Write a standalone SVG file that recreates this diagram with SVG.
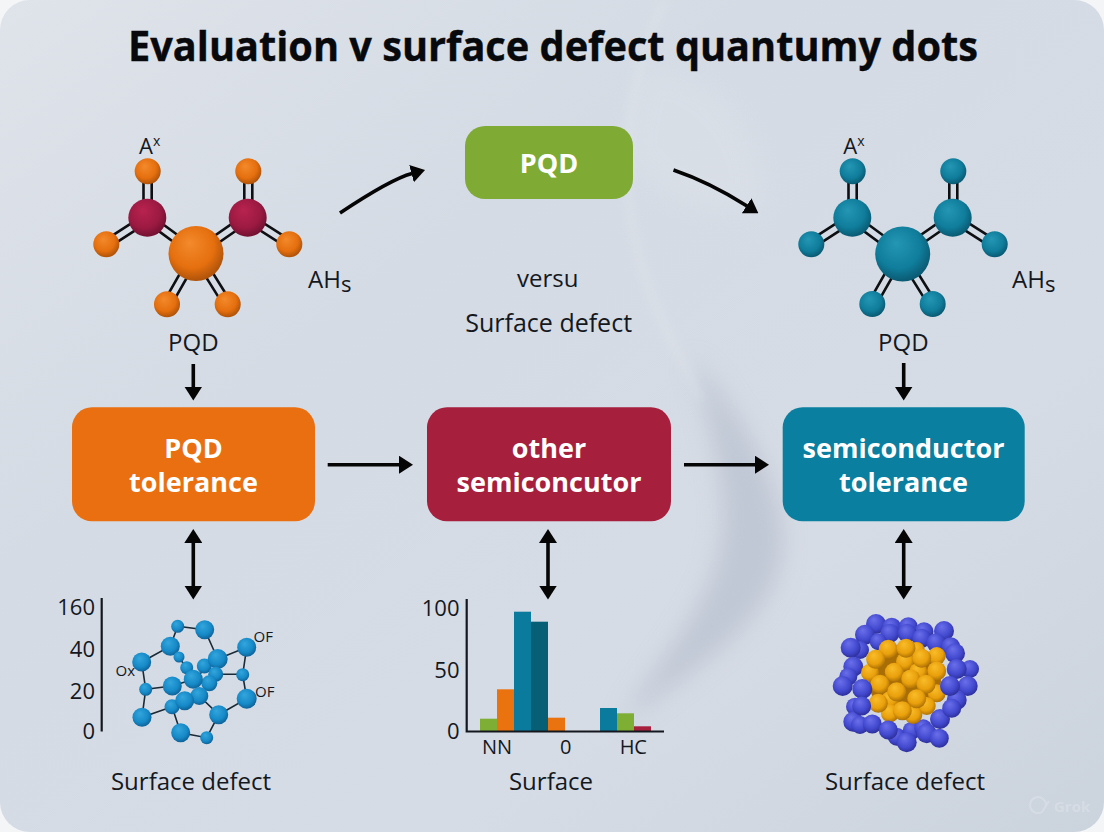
<svg xmlns="http://www.w3.org/2000/svg" xmlns:xlink="http://www.w3.org/1999/xlink" width="1104" height="832" viewBox="0 0 1104 832">
<style>
text{font-family:"Open Sans","Noto Sans","Liberation Sans",sans-serif;fill:#14181e}
.lbl{font-size:24px;text-anchor:middle}
.wide{font-size:25px;text-anchor:middle}
.axis{font-size:22px;text-anchor:end}
.tick{font-size:20px;text-anchor:middle}
.cap{font-size:24px;text-anchor:middle}
.small{font-size:15px}
.nt{font-size:27px;font-weight:700;text-anchor:middle;fill:#fff}
.bond{stroke:#0d0f12;stroke-width:2.6;fill:none}
.edge{stroke:#1a2a36;stroke-width:1.6;fill:none}
.conn{stroke:#050505;stroke-width:3.6;fill:none}
.o{fill:url(#gOrange)}.c{fill:url(#gCrimson)}.t{fill:url(#gTeal)}.b{fill:url(#gSky)}.v{fill:url(#gViolet)}.g{fill:url(#gGold)}
</style>
<defs>
<linearGradient id="bg" x1="0" y1="0" x2="1" y2="1">
<stop offset="0" stop-color="#dfe3ea"/><stop offset=".35" stop-color="#d4dbe4"/><stop offset=".7" stop-color="#d6dce5"/><stop offset="1" stop-color="#cbd3dd"/>
</linearGradient>
<radialGradient id="gOrange" cx=".45" cy=".4" r=".62" fx=".38" fy=".3"><stop offset="0" stop-color="#f38a2c"/><stop offset=".65" stop-color="#e56f0e"/><stop offset="1" stop-color="#a9500a"/></radialGradient>
<radialGradient id="gCrimson" cx=".45" cy=".4" r=".62" fx=".38" fy=".3"><stop offset="0" stop-color="#b8234f"/><stop offset=".65" stop-color="#9c1a42"/><stop offset="1" stop-color="#6e1030"/></radialGradient>
<radialGradient id="gTeal" cx=".45" cy=".4" r=".62" fx=".38" fy=".3"><stop offset="0" stop-color="#2497b5"/><stop offset=".65" stop-color="#0f7d9b"/><stop offset="1" stop-color="#0a566e"/></radialGradient>
<radialGradient id="gSky" cx=".45" cy=".4" r=".62" fx=".38" fy=".3"><stop offset="0" stop-color="#34a6dd"/><stop offset=".65" stop-color="#168ac8"/><stop offset="1" stop-color="#0e5f94"/></radialGradient>
<radialGradient id="gViolet" cx=".45" cy=".4" r=".62" fx=".38" fy=".28"><stop offset="0" stop-color="#6a70ea"/><stop offset=".65" stop-color="#4349cf"/><stop offset="1" stop-color="#2a2d96"/></radialGradient>
<radialGradient id="gGold" cx=".45" cy=".4" r=".62" fx=".38" fy=".28"><stop offset="0" stop-color="#f9bd2a"/><stop offset=".65" stop-color="#e9a00c"/><stop offset="1" stop-color="#a86d05"/></radialGradient>
<filter id="blur12" x="-30%" y="-30%" width="160%" height="160%"><feGaussianBlur stdDeviation="12"/></filter>
<filter id="blur5" x="-30%" y="-30%" width="160%" height="160%"><feGaussianBlur stdDeviation="5"/></filter>
<marker id="ah" markerUnits="userSpaceOnUse" markerWidth="14" markerHeight="18" viewBox="0 0 14 18" refX="0.5" refY="9" orient="auto-start-reverse"><path d="M0 0L14 9L0 18Z" fill="#050505"/></marker>
<g id="bonds" class="bond">
<path d="M143.5 171V218M151.7 171V218M244.3 171V218M252.3 171V218"/>
<path d="M149.5 221.1L108.5 247.7M145.1 214.3L104.1 240.9"/>
<path d="M198.4 250.3L149.7 214.5M193.6 256.7L144.9 220.9"/>
<path d="M198.3 256.8L250 221M193.7 250.2L245.4 214.4"/>
<path d="M245.5 221.1L287.1 247.7M249.9 214.3L291.5 240.9"/>
<path d="M199.5 255.5L170.5 306.3M192.5 251.5L163.5 302.3"/>
<path d="M199.4 251.4L231.1 302.2M192.6 255.6L224.3 306.4"/>
</g>
</defs>

<rect width="1104" height="832" fill="#f4f5f7"/>
<g id="background">
<rect width="1104" height="832" rx="30" fill="url(#bg)"/>
<path d="M640 70C700 60 770 120 760 210C700 220 640 190 625 150Z" fill="#e3e7ed" opacity=".3" filter="url(#blur12)"/>
<path d="M690 355C755 430 795 510 778 570C760 630 690 670 620 725C670 640 735 590 722 490C715 440 705 400 690 355Z" fill="#aab3c5" opacity=".5" filter="url(#blur12)"/>
<path d="M665 0C630 70 615 170 640 260C660 330 690 370 700 400" fill="none" stroke="#e8ebf0" stroke-width="6" opacity=".35" filter="url(#blur5)"/>
</g>

<text id="title" x="553" y="61" text-anchor="middle" font-size="42" font-weight="700" textLength="850" lengthAdjust="spacingAndGlyphs" stroke="#07090c" stroke-width=".4" style="fill:#07090c">Evaluation v surface defect quantumy dots</text>

<g id="connectors">
<path class="conn" d="M340 213C370 193 395 178 412 173.500" marker-end="url(#ah)"/>
<path class="conn" d="M673.500 170C700 179 725 192 747 206" marker-end="url(#ah)"/>
<path class="conn" d="M193.300 364V387" marker-end="url(#ah)"/>
<path class="conn" d="M903.700 363V387" marker-end="url(#ah)"/>
<path class="conn" d="M327.700 464.700H399.500" marker-end="url(#ah)"/>
<path class="conn" d="M684 464.700H755.500" marker-end="url(#ah)"/>
<path class="conn" d="M193.300 542.500V586" marker-start="url(#ah)" marker-end="url(#ah)"/>
<path class="conn" d="M548 542.500V586" marker-start="url(#ah)" marker-end="url(#ah)"/>
<path class="conn" d="M903.700 542.500V586" marker-start="url(#ah)" marker-end="url(#ah)"/>
</g>

<g id="node-pqd-top"><rect x="465" y="126" width="168" height="73" rx="20" fill="#7fab35"/><text class="nt" x="549" y="172.500">PQD</text></g>
<g id="node-pqd-tolerance"><rect x="72" y="407.300" width="243" height="114" rx="20" fill="#e96f10"/><text class="nt" x="193.500" y="457.500">PQD</text><text class="nt" x="193.500" y="492.300">tolerance</text></g>
<g id="node-other"><rect x="427" y="407.300" width="244" height="114" rx="20" fill="#a61f3d"/><text class="nt" x="549" y="457.500">other</text><text class="nt" x="549" y="492.300">semiconcutor</text></g>
<g id="node-semi-tolerance"><rect x="782.700" y="407.300" width="242" height="114" rx="20" fill="#0a7fa0"/><text class="nt" x="903.500" y="457.500">semiconductor</text><text class="nt" x="903.500" y="492.300">tolerance</text></g>

<g id="molecule-left">
<use href="#bonds"/>
<g class="o"><circle cx="147.700" cy="171.300" r="13"/><circle cx="248.300" cy="171.300" r="13"/><circle cx="106.300" cy="244.300" r="13"/><circle cx="289.300" cy="244.300" r="13"/><circle cx="167" cy="304.300" r="13"/><circle cx="227.700" cy="304.300" r="13"/></g>
<g class="c"><circle cx="147.300" cy="217.700" r="19"/><circle cx="247.700" cy="217.700" r="19"/></g>
<circle class="o" cx="196" cy="253.500" r="27.500"/>
<text style="font-size:22px" x="139" y="154.300">A<tspan dy="-8" font-size="14">x</tspan></text>
<text style="font-size:24px" x="308" y="288.300">AH<tspan dy="4" font-size="22">s</tspan></text>
<text class="lbl" x="193.300" y="351">PQD</text>
</g>

<g id="molecule-right">
<use href="#bonds" x="705"/>
<g class="t"><circle cx="852.700" cy="171.300" r="13"/><circle cx="953.300" cy="171.300" r="13"/><circle cx="811.300" cy="244.300" r="13"/><circle cx="994.700" cy="244.300" r="13"/><circle cx="872.300" cy="304" r="13"/><circle cx="932.700" cy="304" r="13"/></g>
<g class="t"><circle cx="852.300" cy="217.700" r="19"/><circle cx="952.700" cy="217.700" r="19"/></g>
<circle class="t" cx="902.700" cy="254" r="27.500"/>
<text style="font-size:22px" x="843.300" y="154.300">A<tspan dy="-8" font-size="14">x</tspan></text>
<text style="font-size:24px" x="1012" y="288.300">AH<tspan dy="4" font-size="22">s</tspan></text>
<text class="lbl" x="903.300" y="351">PQD</text>
</g>

<g id="label-center">
<text class="lbl" x="547.700" y="287.300">versu</text>
<text class="wide" x="548.700" y="331.500">Surface defect</text>
</g>

<g id="cluster-panel">
<path d="M101.700 598V731.500" stroke="#14181e" stroke-width="2.200"/>
<text class="axis" x="95" y="615">160</text><text class="axis" x="95" y="656.500">40</text><text class="axis" x="95" y="698.500">20</text><text class="axis" x="95" y="739">0</text>
<path class="edge" d="M177.700 626.300L204.700 629.700L217.700 659L246.700 647.300L242.700 674.700L246.700 698.700L218.700 714.700L206.700 737.700L180.700 732.700L172 706.700L142 717.300L145.700 689.300L141.700 662L170.300 646.300L177.700 626.300M145.700 689.300L172.300 686L193.300 679.300L217.700 659M215.700 674.300H242.700M199.300 696L218.700 714.700M170.300 646.300L186.700 667.700"/>
<g class="b">
<circle cx="177.700" cy="626.300" r="6.500"/><circle cx="204.700" cy="629.700" r="9.500"/><circle cx="170.300" cy="646.300" r="9.500"/><circle cx="246.700" cy="647.300" r="9.500"/><circle cx="141.700" cy="662" r="9.500"/><circle cx="179" cy="657" r="5.500"/><circle cx="186.700" cy="667.700" r="6.500"/><circle cx="204.300" cy="666" r="7.500"/><circle cx="217.700" cy="659" r="10"/><circle cx="242.700" cy="674.700" r="6.500"/><circle cx="215.700" cy="674.300" r="7.500"/><circle cx="209.300" cy="683.300" r="8"/><circle cx="193.300" cy="679.300" r="9.500"/><circle cx="145.700" cy="689.300" r="6.500"/><circle cx="172.300" cy="686" r="9.500"/><circle cx="172" cy="706.700" r="7.500"/><circle cx="199.300" cy="696" r="9"/><circle cx="184.700" cy="700.700" r="9.500"/><circle cx="246.700" cy="698.700" r="10"/><circle cx="142" cy="717.300" r="9.500"/><circle cx="218.700" cy="714.700" r="9.500"/><circle cx="180.700" cy="732.700" r="9.500"/><circle cx="206.700" cy="737.700" r="6.500"/>
</g>
<text class="small" x="115.500" y="676">Ox</text><text class="small" x="253.500" y="641.500">OF</text><text class="small" x="255" y="696.500">OF</text>
<text class="cap" x="191" y="790">Surface defect</text>
</g>

<g id="bar-panel">
<rect x="480" y="718.700" width="17" height="12.300" fill="#7fae35"/>
<rect x="497" y="689.300" width="17" height="41.700" fill="#ea720f"/>
<rect x="514" y="611.700" width="17" height="119.300" fill="#0a7b9c"/>
<rect x="531" y="621.700" width="17" height="109.300" fill="#075f75"/>
<rect x="548" y="717.700" width="17" height="13.300" fill="#ea720f"/>
<rect x="600" y="708" width="17" height="23" fill="#0a7b9c"/>
<rect x="617" y="713.300" width="17" height="17.700" fill="#7fae35"/>
<rect x="634" y="726.300" width="17" height="4.700" fill="#a61f3d"/>
<path d="M466.700 599V731.500H664" fill="none" stroke="#14181e" stroke-width="2.200"/>
<text class="axis" x="459.500" y="615.500">100</text><text class="axis" x="459.500" y="677.500">50</text><text class="axis" x="459.500" y="738.500">0</text>
<text class="tick" x="497" y="754.300">NN</text><text class="tick" x="565.700" y="754.300">0</text><text class="tick" x="633.300" y="754.300">HC</text>
<text class="cap" x="551" y="790">Surface</text>
</g>

<g id="nanoparticle-panel">
<g class="v">
<circle cx="876" cy="624" r="10"/><circle cx="891.700" cy="627.300" r="9.500"/><circle cx="908.300" cy="626.700" r="9.500"/><circle cx="924" cy="631.700" r="9.500"/><circle cx="944" cy="631" r="10"/><circle cx="865" cy="634.700" r="10"/><circle cx="890" cy="633.300" r="9.500"/><circle cx="907.300" cy="633.300" r="9.500"/><circle cx="921.700" cy="638.300" r="9.500"/><circle cx="936" cy="642.700" r="9.500"/><circle cx="950.700" cy="646.700" r="9.500"/><circle cx="878.300" cy="641.700" r="8.500"/><circle cx="860" cy="650" r="9"/><circle cx="850.700" cy="647.700" r="10"/><circle cx="955" cy="653.300" r="10"/><circle cx="970" cy="669" r="9"/><circle cx="956.700" cy="669" r="10"/><circle cx="853.300" cy="666.700" r="10"/><circle cx="848.300" cy="676.700" r="9"/><circle cx="842.700" cy="686" r="10"/><circle cx="967.700" cy="686" r="10"/><circle cx="956.700" cy="700" r="10"/><circle cx="855" cy="706.700" r="9"/><circle cx="853.300" cy="721.700" r="10"/><circle cx="860" cy="725" r="9"/><circle cx="896.700" cy="736.700" r="9"/><circle cx="911.700" cy="730.700" r="9"/><circle cx="923.300" cy="728.300" r="9"/><circle cx="926.700" cy="733.300" r="10"/><circle cx="939.300" cy="738.300" r="9.500"/><circle cx="940" cy="719" r="10"/>
</g>
<circle cx="905" cy="681" r="36" fill="#a86d05"/>
<g class="g">
<circle cx="916.700" cy="650" r="8"/><circle cx="936.700" cy="656" r="9"/><circle cx="905" cy="661.700" r="9"/><circle cx="870" cy="672.700" r="9"/><circle cx="936.700" cy="671" r="9.500"/><circle cx="918.300" cy="671.700" r="9"/><circle cx="936.700" cy="693.300" r="9"/><circle cx="890" cy="700" r="9"/><circle cx="926.700" cy="706" r="9"/><circle cx="890" cy="713.300" r="9"/><circle cx="913.300" cy="715" r="9"/>
<circle cx="888.300" cy="649.300" r="9.500"/><circle cx="906" cy="648.300" r="9.500"/><circle cx="875.700" cy="659.300" r="9.500"/><circle cx="921.700" cy="658.300" r="9.500"/><circle cx="894.300" cy="672.300" r="9.500"/><circle cx="910.700" cy="679" r="9.500"/><circle cx="880" cy="684.300" r="9.500"/><circle cx="926" cy="684.300" r="9.500"/><circle cx="896.700" cy="691.700" r="9.500"/><circle cx="878.300" cy="703.300" r="9.500"/><circle cx="916.700" cy="698.700" r="9.500"/><circle cx="902.300" cy="710.700" r="9.500"/>
</g>
<g class="v">
<circle cx="862.300" cy="689" r="10"/><circle cx="950" cy="686" r="10"/><circle cx="861.700" cy="706" r="9.500"/><circle cx="951.700" cy="708.300" r="9.500"/><circle cx="872.300" cy="724" r="9.500"/><circle cx="888.300" cy="730" r="9.500"/><circle cx="906.700" cy="742.300" r="10"/>
</g>
<text class="cap" x="905" y="790">Surface defect</text>
</g>

<g id="watermark" opacity=".4">
<path d="M1046 805A8 8 0 1 0 1042 812L1049 801" fill="none" stroke="#e6e9ee" stroke-width="2"/>
<text x="1054" y="812" style="font-size:15px;font-weight:700;fill:#e6e9ee">Grok</text>
</g>
</svg>
